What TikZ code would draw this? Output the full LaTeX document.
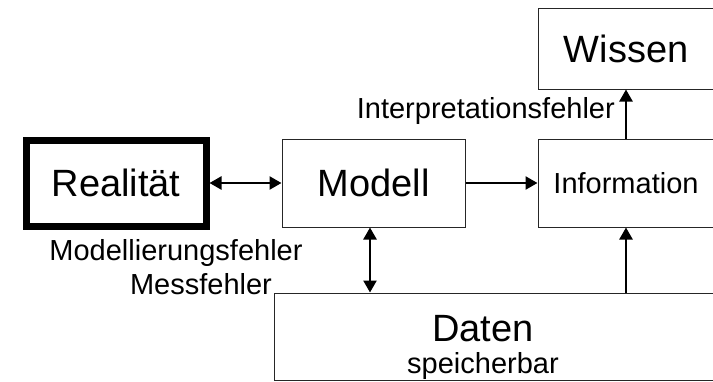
\documentclass[tikz,border=0pt]{standalone}
\usepackage{fontspec}
\setmainfont{Liberation Sans}
\usetikzlibrary{arrows.meta, positioning}

\begin{document}
\begin{tikzpicture}[x=1pt, y=-1pt,
  box/.style={draw=black!85, line width=1pt, inner sep=0pt,
    font=\fontsize{38}{40}\selectfont},
  realbox/.style={box, draw=black, line width=7pt},
  conn/.style={line width=2.4pt, -{Triangle[length=12pt, width=13pt]}},
  biconn/.style={line width=2.4pt,
    {Triangle[length=12pt, width=13pt]}-{Triangle[length=12pt, width=13pt]}},
  lbl/.style={inner sep=0pt, font=\fontsize{29}{31}\selectfont}]
\useasboundingbox (0,0) rectangle (713,381);
\clip (0,0) rectangle (713,381);

% boxes
\node[realbox, minimum width=180pt, minimum height=86pt] (real) at (116,183) {Realität};
\node[box, minimum width=183pt, minimum height=88pt] (modell) at (373.5,183) {Modell};
\node[box, minimum width=176pt, minimum height=88pt, font=\fontsize{29}{31}\selectfont]
  (info) at (626,183) {Information};
\node[box, minimum width=176pt, minimum height=81pt] (wissen) at (626,48.5) {Wissen};
\node[box, minimum width=446pt, minimum height=87pt] (daten) at (497,336.5) {};

% box text of Daten
\node[lbl, anchor=base, font=\fontsize{38}{40}\selectfont] (dtitle) at (483,341) {Daten};
\node[lbl, anchor=base] (dsub) at (483,373) {speicherbar};

% error labels
\node[lbl, anchor=base east] (interp) at (615,118) {Interpretationsfehler};
\node[lbl, anchor=base] (modfehler) at (176,260) {Modellierungsfehler};
\node[lbl, anchor=base] (messfehler) at (201,294) {Messfehler};

% connectors
\draw[biconn] (real) -- (modell);
\draw[conn] (modell) -- (info);
\draw[biconn] ([xshift=-3.5pt]modell.south) -- ([xshift=-3.5pt]modell.south |- daten.north);
\draw[conn] (info.south |- daten.north) -- (info.south);
\draw[conn] (info) -- (wissen);
\end{tikzpicture}
\end{document}
